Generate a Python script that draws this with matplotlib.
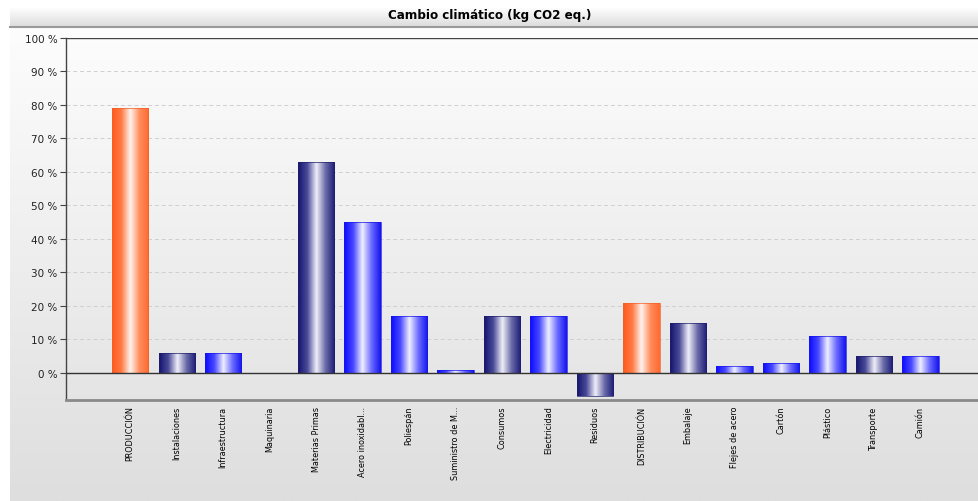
import numpy as np
import matplotlib
matplotlib.use("Agg")
import matplotlib.pyplot as plt
from matplotlib.colors import LinearSegmentedColormap

categories = ["PRODUCCIÓN", "Instalaciones", "Infraestructura", "Maquinaria",
              "Materias Primas", "Acero inoxidabl...", "Poliespán", "Suministro de M...",
              "Consumos", "Electricidad", "Residuos", "DISTRIBUCIÓN", "Embalaje",
              "Flejes de acero", "Cartón", "Plástico", "Transporte", "Camión"]
values = [79, 6, 6, 0, 63, 45, 17, 1, 17, 17, -7, 21, 15, 2, 3, 11, 5, 5]
# stage = orange, group = navy, item = blue
kinds = ["stage", "group", "item", "item", "group", "item", "item", "item",
         "group", "item", "group", "stage", "group", "item", "item", "item",
         "group", "item"]
yticks = list(range(0, 101, 10))

W, H = 979, 502
fig = plt.figure(figsize=(W / 100, H / 100), dpi=100)
fig.patch.set_facecolor("white")

# panel background
bg = fig.add_axes([10 / W, 0, 1 - 10 / W, 1 - 28 / H])
bg.imshow(np.linspace(0, 1, 256)[:, None], aspect="auto", extent=[0, 1, 0, 1],
          cmap=LinearSegmentedColormap.from_list("bg", ["#fdfdfd", "#dedede"]))
bg.set_axis_off()

# title bar
tb = fig.add_axes([10 / W, 1 - 28 / H, 1 - 10 / W, 20 / H])
tb.imshow(np.linspace(0, 1, 64)[:, None], aspect="auto", extent=[0, 1, 0, 1],
          cmap=LinearSegmentedColormap.from_list("tb", ["#ffffff", "#dcdcdc"]))
tb.set_axis_off()
fig.add_artist(plt.Line2D([10 / W, 1], [1 - 28 / H] * 2, color="#9a9a9a", lw=1.5))
fig.text(490 / W, 1 - 15 / H, "Cambio climático (kg CO2 eq.)", ha="center", va="center",
         fontsize=9.5, fontweight="bold", fontstretch="condensed")

ax = fig.add_axes([66 / W, 1 - 401 / H, 913 / W, 362 / H])
ax.set_facecolor("none")

cmaps = {
    "stage": LinearSegmentedColormap.from_list("o", ["#ff5a1e", "#ff7a44", "#fff4ee", "#ff8c5c", "#ff6a30"]),
    "group": LinearSegmentedColormap.from_list("n", ["#141470", "#4a4a98", "#f0f0fa", "#6a6aa8", "#1c1c78"]),
    "item": LinearSegmentedColormap.from_list("b", ["#0a0aff", "#4848ff", "#f0f0ff", "#6a6aff", "#1414f0"]),
}
edges = {"stage": "#f06028", "group": "#202068", "item": "#1818e8"}

x = np.arange(len(categories))
grad = np.linspace(0, 1, 128)[None, :]
bars = ax.bar(x, values, width=0.78, color="none", zorder=3)
for b, k in zip(bars, kinds):
    b.set_edgecolor(edges[k])
    b.set_linewidth(0.5)
    x0, y0 = b.get_x(), b.get_y()
    w, h = b.get_width(), b.get_height()
    if h == 0:
        continue
    im = ax.imshow(grad, aspect="auto", cmap=cmaps[k], zorder=2,
                   extent=[x0, x0 + w, min(y0, y0 + h), max(y0, y0 + h)])
    im.set_clip_path(b)

ax.set_xlim(-1.38, 18.26)
ax.set_ylim(-8.06, 100)

for t in yticks[1:-1]:
    ax.axhline(t, color="#cfcfcf", lw=0.7, ls=(0, (4, 3)), zorder=1)
ax.axhline(0, color="#333333", lw=1.0, zorder=4)
ax.axhline(100, color="#444444", lw=1.0, zorder=4)

ax.set_yticks(yticks)
ax.set_yticklabels([f"{t} %" for t in yticks], fontsize=7.5, color="#222222")
ax.tick_params(axis="y", length=4, width=0.8, color="#444444", pad=2)
ax.set_xticks(x)
ax.set_xticklabels(categories, rotation=90, fontsize=6.5, va="top", fontstretch="condensed")
ax.tick_params(axis="x", length=0, pad=4)

for s in ["top", "right"]:
    ax.spines[s].set_visible(False)
ax.spines["left"].set_color("#444444")
ax.spines["left"].set_linewidth(1.0)
ax.spines["bottom"].set_color("#8a8a8a")
ax.spines["bottom"].set_linewidth(2.0)

fig.savefig("out.png", dpi=100)
